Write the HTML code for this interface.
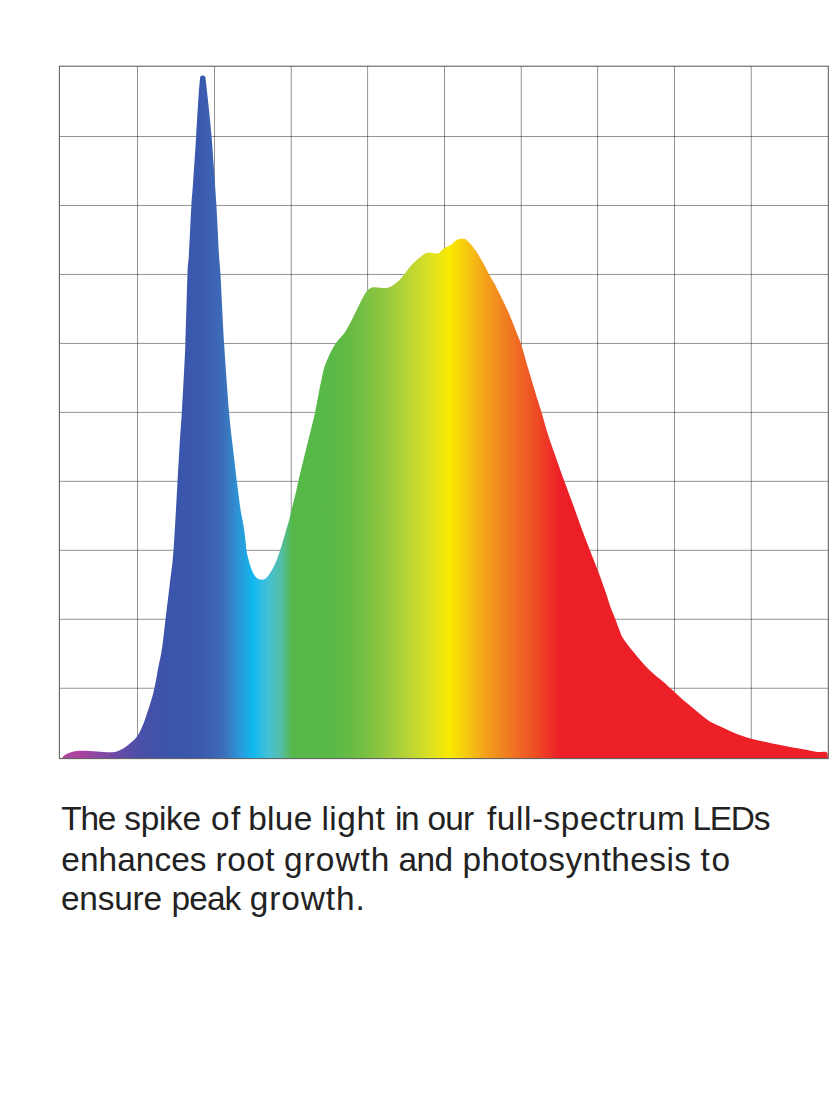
<!DOCTYPE html>
<html><head><meta charset="utf-8"><title>Spectrum</title>
<style>
html,body{margin:0;padding:0;background:#fff;}
body{width:840px;height:1120px;position:relative;overflow:hidden;font-family:"Liberation Sans",sans-serif;}
svg{position:absolute;left:0;top:0;}
.ln{position:absolute;left:0;width:840px;height:40px;font-size:33.4px;line-height:40px;color:#222;white-space:nowrap;}
.ln span{position:absolute;top:0;}
</style></head><body>
<svg width="840" height="1120" viewBox="0 0 840 1120">
<defs><linearGradient id="sp" gradientUnits="userSpaceOnUse" x1="59.3" y1="0" x2="828.3" y2="0"><stop offset="0.0009" stop-color="#b2479d"/><stop offset="0.0308" stop-color="#a6449f"/><stop offset="0.0750" stop-color="#6a4aa8"/><stop offset="0.1049" stop-color="#4a4fa8"/><stop offset="0.1401" stop-color="#3a54aa"/><stop offset="0.1830" stop-color="#3a59ae"/><stop offset="0.2012" stop-color="#3c63b4"/><stop offset="0.2142" stop-color="#3d6fb9"/><stop offset="0.2350" stop-color="#2a98d8"/><stop offset="0.2519" stop-color="#10b8f0"/><stop offset="0.2714" stop-color="#45c0d8"/><stop offset="0.2889" stop-color="#53bda4"/><stop offset="0.3033" stop-color="#55b848"/><stop offset="0.3520" stop-color="#58b947"/><stop offset="0.3858" stop-color="#6cbc45"/><stop offset="0.4261" stop-color="#96c83e"/><stop offset="0.4560" stop-color="#bcd634"/><stop offset="0.4847" stop-color="#e0e222"/><stop offset="0.5065" stop-color="#f8ea00"/><stop offset="0.5302" stop-color="#f6c810"/><stop offset="0.5549" stop-color="#f3a01c"/><stop offset="0.5843" stop-color="#f07a22"/><stop offset="0.6108" stop-color="#ef5924"/><stop offset="0.6336" stop-color="#ed3726"/><stop offset="0.6511" stop-color="#ed1f26"/><stop offset="0.9996" stop-color="#ed1f27"/></linearGradient></defs>
<g stroke="#000" stroke-opacity="0.5" stroke-width="0.85" fill="none"><line x1="137.50" y1="66.20" x2="137.50" y2="758.60"/><line x1="214.50" y1="66.20" x2="214.50" y2="758.60"/><line x1="291.25" y1="66.20" x2="291.25" y2="758.60"/><line x1="367.60" y1="66.20" x2="367.60" y2="758.60"/><line x1="444.50" y1="66.20" x2="444.50" y2="758.60"/><line x1="521.25" y1="66.20" x2="521.25" y2="758.60"/><line x1="597.60" y1="66.20" x2="597.60" y2="758.60"/><line x1="674.50" y1="66.20" x2="674.50" y2="758.60"/><line x1="751.25" y1="66.20" x2="751.25" y2="758.60"/><line x1="59.40" y1="136.50" x2="828.30" y2="136.50"/><line x1="59.40" y1="205.47" x2="828.30" y2="205.47"/><line x1="59.40" y1="274.44" x2="828.30" y2="274.44"/><line x1="59.40" y1="343.41" x2="828.30" y2="343.41"/><line x1="59.40" y1="412.38" x2="828.30" y2="412.38"/><line x1="59.40" y1="481.35" x2="828.30" y2="481.35"/><line x1="59.40" y1="550.32" x2="828.30" y2="550.32"/><line x1="59.40" y1="619.29" x2="828.30" y2="619.29"/><line x1="59.40" y1="688.26" x2="828.30" y2="688.26"/></g>
<path d="M60.5 758.6 C60.9 758.4 61.9 757.8 62.6 757.2 C63.3 756.7 63.6 755.9 64.5 755.3 C65.4 754.6 66.6 753.9 68.0 753.3 C69.4 752.7 70.7 752.1 73.0 751.7 C75.3 751.3 78.1 750.8 82.1 750.8 C86.1 750.8 92.1 751.1 97.1 751.4 C102.1 751.6 108.2 752.6 112.1 752.3 C116.0 752.0 117.8 751.1 120.7 749.7 C123.6 748.3 126.5 746.2 129.3 743.9 C132.1 741.6 134.9 739.8 137.4 736.0 C139.9 732.2 142.1 727.0 144.3 721.4 C146.5 715.8 149.0 707.6 150.7 702.1 C152.4 696.6 153.2 693.9 154.4 688.2 C155.7 682.5 156.9 674.6 158.2 667.9 C159.5 661.2 160.9 656.0 162.1 648.0 C163.3 640.0 164.2 630.4 165.4 620.0 C166.7 609.6 168.2 597.3 169.6 585.7 C170.9 574.1 172.2 567.7 173.5 550.4 C174.8 533.1 176.5 499.4 177.5 481.8 C178.5 464.2 178.9 456.6 179.6 445.0 C180.3 433.4 180.8 429.5 181.8 412.5 C182.8 395.5 184.5 366.0 185.4 342.9 C186.3 319.8 186.9 288.8 187.5 274.1 C188.1 259.5 188.2 266.4 188.9 255.0 C189.6 243.6 190.7 217.2 191.4 205.5 C192.1 193.8 192.1 196.4 192.9 185.0 C193.7 173.6 195.2 151.7 196.1 136.8 C197.0 121.9 197.9 105.3 198.6 95.7 C199.2 86.1 199.7 82.2 200.0 79.0 C200.3 75.8 200.2 77.0 200.6 76.4 C201.0 75.8 202.0 75.6 202.7 75.6 C203.4 75.6 204.4 75.8 204.9 76.4 C205.4 77.0 205.2 75.8 205.6 79.0 C206.0 82.2 206.5 86.1 207.5 95.7 C208.5 105.3 210.5 123.7 211.6 136.8 C212.7 149.9 213.5 162.9 214.3 174.3 C215.1 185.8 215.6 192.1 216.4 205.5 C217.2 218.9 218.3 243.6 219.0 255.0 C219.7 266.4 219.7 259.5 220.5 274.1 C221.3 288.8 222.7 319.8 224.1 342.9 C225.5 366.0 227.7 395.5 229.1 412.5 C230.5 429.5 231.7 436.9 232.6 445.0 C233.5 453.1 233.8 455.3 234.5 461.4 C235.2 467.5 235.9 473.9 236.9 481.8 C237.9 489.7 239.5 502.2 240.4 508.6 C241.3 515.0 241.9 516.4 242.5 520.0 C243.1 523.6 243.7 526.5 244.2 530.0 C244.7 533.5 245.1 537.4 245.5 540.8 C245.9 544.2 246.1 547.6 246.5 550.4 C246.9 553.2 247.4 555.1 248.0 557.5 C248.6 559.9 249.2 562.6 250.0 565.0 C250.8 567.4 251.5 569.7 252.5 571.7 C253.5 573.7 254.7 575.8 255.8 577.1 C256.9 578.4 257.9 578.9 259.2 579.3 C260.4 579.7 262.1 579.9 263.3 579.6 C264.6 579.3 265.6 578.5 266.7 577.5 C267.8 576.5 268.9 575.0 270.0 573.3 C271.1 571.6 272.2 569.7 273.3 567.5 C274.4 565.3 275.6 562.9 276.7 560.0 C277.8 557.1 278.9 553.7 280.0 550.4 C281.1 547.1 282.2 543.7 283.3 540.0 C284.4 536.3 285.7 531.6 286.7 528.3 C287.7 525.0 288.3 523.3 289.2 520.0 C290.1 516.7 290.6 513.4 291.8 508.6 C293.0 503.8 295.0 496.2 296.1 491.4 C297.2 486.6 297.6 484.6 298.6 480.0 C299.7 475.4 301.1 469.2 302.4 463.9 C303.7 458.5 305.1 453.2 306.4 447.9 C307.7 442.5 308.9 437.7 310.4 431.8 C311.8 425.9 313.8 418.6 315.1 412.4 C316.5 406.1 317.5 399.6 318.5 394.3 C319.5 389.1 320.2 385.5 321.2 380.9 C322.2 376.3 323.2 371.1 324.5 366.8 C325.8 362.6 327.4 359.2 329.2 355.4 C331.0 351.6 333.2 347.2 335.2 344.1 C337.2 341.0 339.7 338.5 341.2 336.7 C342.7 334.9 342.9 335.2 344.2 333.3 C345.5 331.4 347.5 328.1 349.2 325.0 C350.9 321.9 352.7 318.1 354.2 315.0 C355.7 311.9 356.9 309.5 358.3 306.7 C359.7 303.9 361.2 300.7 362.5 298.3 C363.8 295.9 364.8 293.9 365.8 292.5 C366.8 291.1 367.3 290.4 368.3 289.6 C369.3 288.8 370.6 287.9 371.7 287.5 C372.8 287.1 373.6 287.3 375.0 287.3 C376.4 287.3 378.1 287.6 380.0 287.7 C381.9 287.8 385.0 288.0 386.7 287.9 C388.4 287.8 388.9 287.6 390.0 287.1 C391.1 286.6 392.2 285.8 393.3 285.0 C394.4 284.2 395.6 283.4 396.7 282.5 C397.8 281.6 398.8 280.9 400.0 279.6 C401.2 278.3 402.5 276.6 404.2 274.5 C405.9 272.4 407.9 269.1 410.0 266.7 C412.1 264.3 415.0 261.5 416.7 260.0 C418.4 258.5 419.0 258.4 420.0 257.6 C421.0 256.8 421.8 255.8 422.9 255.0 C424.0 254.2 425.3 253.5 426.7 253.1 C428.1 252.7 429.8 252.7 431.4 252.8 C433.0 252.9 434.9 253.5 436.2 253.5 C437.5 253.5 438.1 253.6 439.0 253.0 C439.9 252.4 441.0 251.0 441.9 250.2 C442.8 249.3 443.5 248.6 444.6 247.9 C445.7 247.2 447.5 246.6 448.6 246.0 C449.7 245.4 450.4 245.2 451.4 244.5 C452.3 243.8 453.4 242.5 454.3 241.7 C455.2 240.9 456.2 240.2 457.1 239.8 C458.1 239.4 458.9 239.2 460.0 239.0 C461.1 238.8 462.8 238.7 463.8 238.8 C464.8 238.9 465.2 239.1 466.2 239.8 C467.1 240.5 468.3 241.8 469.5 243.1 C470.7 244.4 472.0 245.8 473.3 247.4 C474.6 249.0 475.8 250.6 477.1 252.6 C478.4 254.6 479.7 257.1 481.0 259.3 C482.3 261.5 483.5 263.6 484.8 266.0 C486.1 268.4 487.3 271.2 488.6 273.6 C489.9 276.0 491.3 278.3 492.4 280.2 C493.5 282.1 493.4 281.6 495.2 285.0 C496.9 288.4 500.5 295.5 502.9 300.4 C505.2 305.3 507.2 309.3 509.3 314.3 C511.4 319.3 513.7 325.2 515.7 330.4 C517.7 335.6 519.4 338.8 521.5 345.4 C523.6 352.0 526.4 362.3 528.6 370.0 C530.9 377.7 532.9 384.4 535.0 391.4 C537.1 398.4 539.2 404.6 541.4 411.8 C543.5 419.0 545.4 426.4 547.9 434.3 C550.4 442.2 553.9 451.7 556.6 459.5 C559.3 467.3 561.6 473.6 564.3 481.1 C567.0 488.6 570.0 496.5 572.9 504.3 C575.8 512.1 578.5 520.2 581.4 527.9 C584.2 535.6 587.3 543.4 590.0 550.4 C592.7 557.4 595.0 563.0 597.5 569.6 C600.0 576.2 602.8 584.1 605.0 590.3 C607.2 596.5 608.8 602.2 610.5 607.0 C612.2 611.8 614.0 615.7 615.4 619.3 C616.8 622.9 617.6 625.6 618.8 628.6 C619.9 631.6 620.8 634.4 622.3 637.1 C623.8 639.8 625.9 642.4 627.9 645.0 C629.9 647.6 632.0 650.2 634.3 652.9 C636.5 655.6 639.0 658.7 641.4 661.4 C643.8 664.1 646.2 666.9 648.6 669.3 C651.0 671.7 653.3 673.7 655.7 675.7 C658.1 677.7 660.5 679.4 662.9 681.4 C665.3 683.4 668.0 686.1 670.0 687.9 C672.0 689.7 672.5 690.0 674.6 692.0 C676.8 694.0 680.1 697.3 682.9 699.8 C685.7 702.3 688.5 704.4 691.4 706.8 C694.2 709.1 697.4 711.8 700.0 713.9 C702.6 716.0 704.8 717.8 707.1 719.4 C709.4 721.0 711.4 722.2 714.0 723.6 C716.6 725.0 719.0 725.9 722.5 727.5 C726.0 729.1 730.2 731.4 735.0 733.2 C739.8 735.1 745.4 737.1 751.2 738.8 C757.1 740.4 763.5 741.6 770.0 743.0 C776.5 744.4 784.2 745.9 790.0 747.0 C795.8 748.1 800.4 748.7 805.0 749.5 C809.6 750.3 814.4 751.6 817.5 752.0 C820.6 752.4 822.2 751.7 823.8 751.8 C825.2 751.8 825.9 751.9 826.5 752.2 C827.1 752.5 827.4 752.4 827.6 753.5 C827.8 754.6 827.9 757.8 827.9 758.6 Z" fill="url(#sp)"/>
<rect x="59.4" y="66.2" width="768.9" height="692.4" fill="none" stroke="#5c5c5c" stroke-width="1.05"/>
</svg>
<div class="ln" style="top:799.3px"><span style="left:61.3px;letter-spacing:-1.30px">The</span> <span style="left:124.2px;letter-spacing:-0.25px">spike</span> <span style="left:210.9px;letter-spacing:1.60px">of</span> <span style="left:248.2px;letter-spacing:0.30px">blue</span> <span style="left:321.4px;letter-spacing:0.53px">light</span> <span style="left:394.9px;letter-spacing:-1.20px">in</span> <span style="left:427.6px;letter-spacing:-0.85px">our</span> <span style="left:487.0px;letter-spacing:0.55px">full-spectrum</span> <span style="left:692.6px;letter-spacing:-1.30px">LEDs</span> </div>
<div class="ln" style="top:839.9px"><span style="left:61.3px;letter-spacing:0.06px">enhances</span> <span style="left:215.5px;letter-spacing:0.53px">root</span> <span style="left:284.1px;letter-spacing:1.02px">growth</span> <span style="left:398.4px;letter-spacing:-0.50px">and</span> <span style="left:462.6px;letter-spacing:0.44px">photosynthesis</span> <span style="left:700.5px;letter-spacing:1.60px">to</span> </div>
<div class="ln" style="top:879.4px"><span style="left:61.0px;letter-spacing:-0.22px">ensure</span> <span style="left:171.6px;letter-spacing:-0.90px">peak</span> <span style="left:249.7px;letter-spacing:0.93px">growth.</span> </div>

</body></html>
